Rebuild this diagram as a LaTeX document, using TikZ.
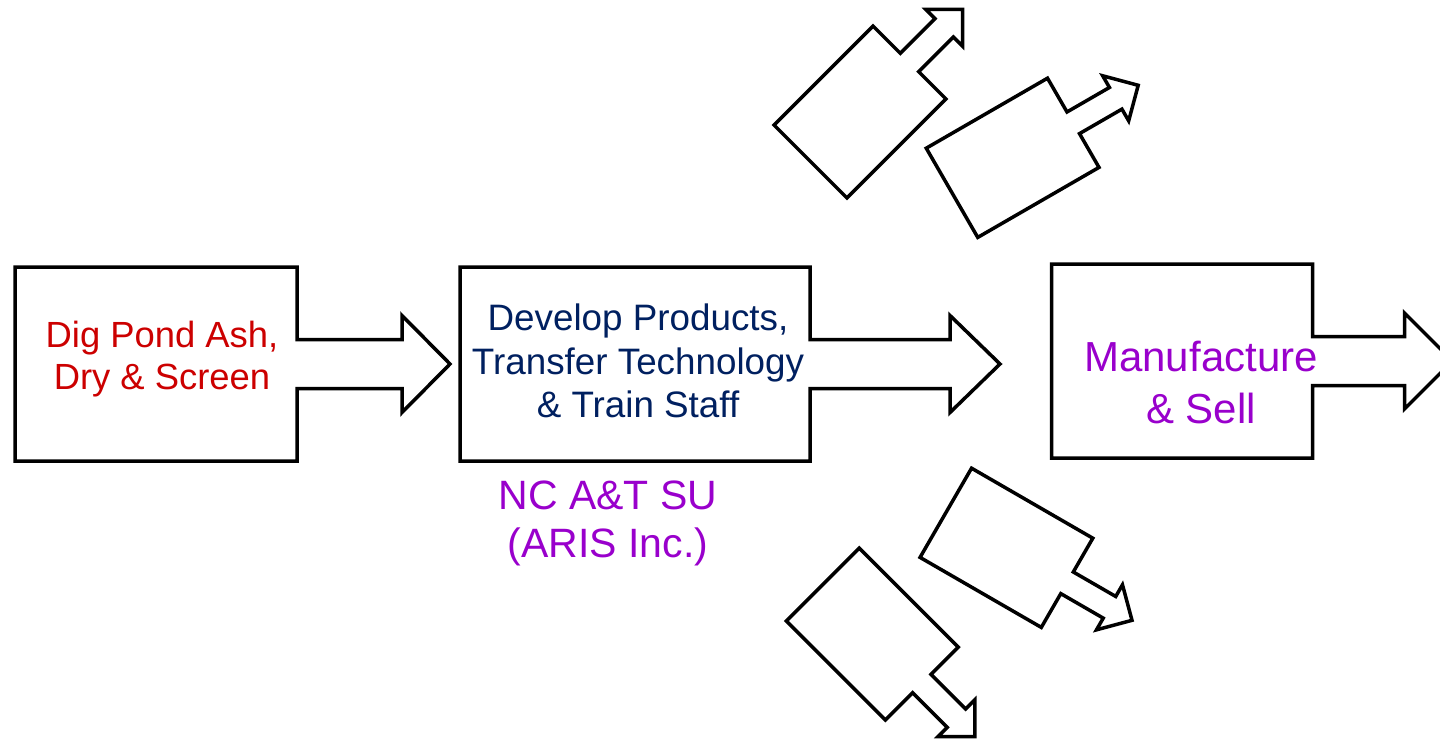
\documentclass[tikz,border=0pt]{standalone}
\usepackage{fontspec}
\setmainfont{Liberation Sans}
\definecolor{txtred}{HTML}{CC0000}
\definecolor{txtnavy}{HTML}{002060}
\definecolor{txtpurple}{HTML}{9900CC}
\tikzset{
  shapeline/.style={draw=black,line width=1.75pt,line join=miter,fill=white},
  pics/boxarrow/.style n args={6}{code={
    \draw[shapeline] (0,-#2/2) -- (#1,-#2/2) -- (#1,-#3) -- ({#1+#4},-#3) -- ({#1+#4},-#5)
      -- ({#1+#4+#6},0) -- ({#1+#4},#5) -- ({#1+#4},#3) -- (#1,#3) -- (#1,#2/2) -- (0,#2/2) -- cycle;
  }},
  lbl/.style={inner sep=0pt,align=center,anchor=base},
}
\begin{document}
\begin{tikzpicture}[x=0.5pt,y=-0.5pt]
\useasboundingbox (0,0) rectangle (1440,739);
\clip (0,0) rectangle (1440,739);
% main boxes
\pic (b1) at (15,364) {boxarrow={282}{194}{24.5}{105}{48.5}{48}};
\pic (b2) at (460,364) {boxarrow={350}{194}{24.5}{140}{48.5}{50}};
\pic (b3) at (1051.5,361) {boxarrow={261}{194}{24.5}{92}{48}{48}};
% small rotated boxes
\pic (s1) [rotate=45] at (810.5,161.5) {boxarrow={140}{103}{13}{49}{26}{26}};
\pic (s2) [rotate=30] at (952,192.8) {boxarrow={140}{103}{12.5}{49}{26}{26}};
\pic (s3) [rotate=-30] at (945.8,512.8) {boxarrow={140}{103}{12.5}{49}{26}{26}};
\pic (s4) [rotate=-45] at (822.8,584.5) {boxarrow={140}{103}{13}{49}{26}{26}};
% texts (anchor=base is the baseline of the last line)
\node[lbl,text=txtred,font={\fontsize{18.2}{21}\selectfont}] (t1) at (162,389.3) {Dig Pond Ash,\\Dry \& Screen};
\node[lbl,text=txtnavy,font={\fontsize{18.4}{21.7}\selectfont}] (t2) at (638,417.7) {Develop Products,\\Transfer Technology\\\& Train Staff};
\node[lbl,text=txtpurple,font={\fontsize{21}{25.8}\selectfont}] (t3) at (1201,423.3) {Manufacture\\\& Sell};
\node[lbl,text=txtpurple,font={\fontsize{20.5}{24}\selectfont}] (t4) at (608,557.7) {NC A\&T SU\\(ARIS Inc.)};
\end{tikzpicture}
\end{document}
